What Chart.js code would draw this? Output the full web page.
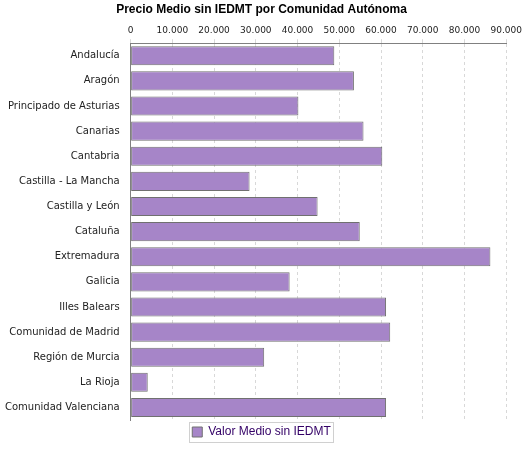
<!DOCTYPE html>
<html>
<head>
<style>
  body { margin: 0; background: #fff; }
  #wrap { width: 525px; height: 450px; }
</style>
</head>
<body>
<div id="wrap"><canvas id="bar_chart"></canvas></div>
<script src="https://cdn.jsdelivr.net/npm/chart.js"></script>
<script>
    const comunidades = ['Andalucía', 'Aragón', 'Principado de Asturias', 'Canarias', 'Cantabria',
        'Castilla - La Mancha', 'Castilla y León', 'Cataluña', 'Extremadura', 'Galicia',
        'Illes Balears', 'Comunidad de Madrid', 'Región de Murcia', 'La Rioja', 'Comunidad Valenciana'];
    const valor_medio = [48800, 53500, 40200, 55800, 60300, 28500, 44800, 54900, 86200, 38100,
        61200, 62200, 32000, 4100, 61200];
    const serie_label = 'Valor Medio sin IEDMT';

    const legendBox = {
        id: 'legendBox',
        afterDraw(chart) {
            const l = chart.legend;
            if (!l || !l.legendHitBoxes.length) return;
            const h = l.legendHitBoxes[0];
            const ctx = chart.ctx;
            ctx.save();
            ctx.strokeStyle = '#d0d0d0';
            ctx.lineWidth = 1;
            ctx.strokeRect(Math.round(h.left - 3) + 0.5, Math.round(h.top - 4) + 0.5, Math.round(h.width + 6), Math.round(h.height + 8));
            ctx.restore();
        }
    };

    const bar_chart = new Chart(document.getElementById('bar_chart'), {
        type: 'bar',
        data: {
            labels: comunidades,
            datasets: [{
                label: serie_label,
                data: valor_medio,
                backgroundColor: '#a685c8',
                borderColor: '#707070',
                borderWidth: 1,
                borderSkipped: false,
                barPercentage: 0.76,
                categoryPercentage: 1.0
            }]
        },
        options: {
            indexAxis: 'y',
            responsive: true,
            maintainAspectRatio: false,
            animation: false,
            layout: { padding: { left: 2, right: 4, top: 0, bottom: 2 } },
            plugins: {
                title: {
                    display: true,
                    text: 'Precio Medio sin IEDMT por Comunidad Autónoma',
                    color: '#000',
                    font: { family: 'Liberation Sans', size: 12, weight: 'bold' },
                    padding: { top: 2, bottom: 6 }
                },
                legend: {
                    position: 'bottom',
                    labels: {
                        color: '#330066',
                        font: { family: 'Liberation Sans', size: 12 },
                        boxWidth: 10,
                        boxHeight: 10,
                        padding: 6
                    }
                },
                tooltip: { enabled: false }
            },
            scales: {
                x: {
                    position: 'top',
                    min: 0,
                    max: 90000,
                    ticks: {
                        stepSize: 10000,
                        color: '#222',
                        font: { family: 'DejaVu Sans', size: 9 },
                        callback: v => v.toLocaleString('de-DE')
                    },
                    grid: {
                        color: '#d8d8d8',
                        tickLength: 4,
                        drawTicks: true
                    },
                    border: { color: '#808080', dash: [3, 3] }
                },
                y: {
                    ticks: {
                        color: '#222',
                        font: { family: 'DejaVu Sans', size: 10 }
                    },
                    grid: { display: false },
                    border: { color: '#808080' }
                }
            }
        },
        plugins: [legendBox]
    });
</script>
</body>
</html>
